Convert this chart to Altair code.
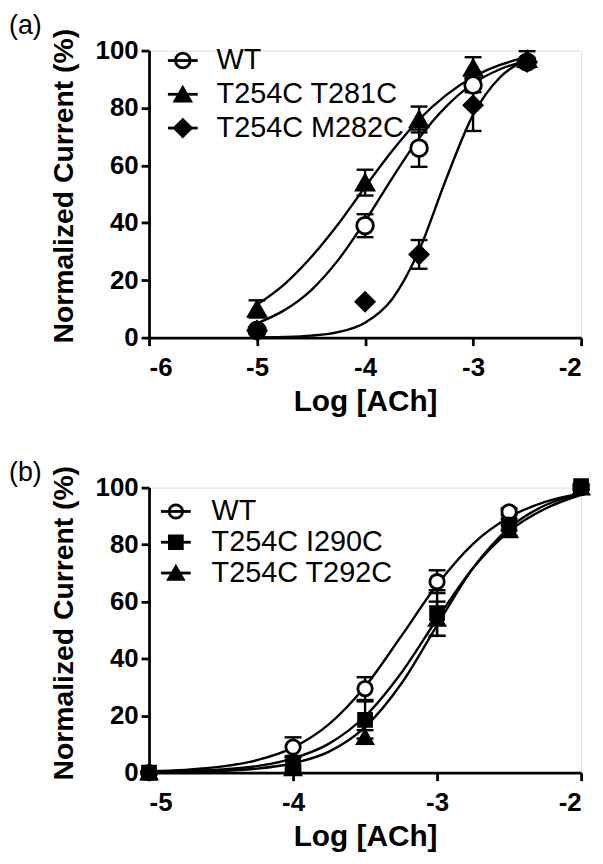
import altair as alt
import pandas as pd

FONT = "Liberation Sans"

# ---------------- Panel (a) data ----------------
a_names = ["WT", "T254C T281C", "T254C M282C"]
a_x = [-5, -4, -3.5, -3, -2.5]
a_wt = [2.5, 39, 66, 88, 96]
a_wt_err = [1.0, 4.0, 6.5, 2.5, 1.5]
a_t281 = [10, 54, 76, 94, 97]
a_t281_err = [3.0, 4.5, 4.5, 3.7, 2.8]
a_m282 = [2.5, 12.5, 29, 81, 96]
a_m282_err = [0.5, 0.5, 5.0, 9.0, 1.0]

a_fit_x = [-5, -4.75, -4.5, -4.25, -4, -3.75, -3.5, -3.25, -3, -2.75, -2.5]
a_fit_wt = [5.0, 9.5, 16.5, 27.0, 40.5, 55.5, 69.5, 80.5, 88.5, 93.5, 96.5]
a_fit_t281 = [11.5, 18.5, 28.0, 39.5, 52.5, 65.0, 76.0, 84.5, 90.8, 95.0, 97.8]
a_fit_m282 = [0.1, 0.25, 0.7, 1.9, 5.2, 13.4, 30.4, 55.2, 77.6, 90.7, 96.8]

# ---------------- Panel (b) data ----------------
b_names = ["WT", "T254C I290C", "T254C T292C"]
b_x = [-5, -4, -3.5, -3, -2.5, -2]
b_wt = [0, 9, 29.5, 67, 91.5, 100]
b_wt_err = [0.5, 3.4, 4.0, 4.0, 1.2, 0.8]
b_i290 = [0, 3.5, 18.5, 56, 87, 100.5]
b_i290_err = [0.5, 2.0, 6.5, 8.0, 2.0, 0.8]
b_t292 = [0, 1.5, 12.5, 54, 85, 100]
b_t292_err = [0.5, 1.0, 2.4, 6.0, 1.8, 0.8]

b_fit_x = [-5, -4.75, -4.5, -4.25, -4, -3.75, -3.5, -3.25, -3, -2.75, -2.5, -2.25, -2]
b_fit_wt = [0.5, 1.0, 2.1, 4.4, 8.8, 17.0, 30.2, 47.8, 65.9, 80.3, 89.6, 95.0, 98.0]
b_fit_i290 = [0.2, 0.5, 1.1, 2.3, 5.0, 10.2, 19.8, 34.9, 53.9, 71.8, 84.7, 92.6, 97.5]
b_fit_t292 = [0.1, 0.25, 0.6, 1.4, 3.3, 7.4, 16.0, 31.1, 51.7, 71.8, 85.8, 93.8, 97.8]

y_ticks = [0, 20, 40, 60, 80, 100]
panel_tags = ["(a)", "(b)"]
y_title = "Normalized Current (%)"
x_title = "Log [ACh]"


def axis_x(vals):
    return alt.Axis(values=vals, labelExpr="toString(datum.value)", title=x_title,
                    grid=False, domainColor="black", domainWidth=2.8, tickColor="black",
                    tickWidth=2.8, tickSize=8, labelFont=FONT, labelFontWeight="bold",
                    labelFontSize=26, labelColor="black", labelPadding=9,
                    titleFont=FONT, titleFontWeight="bold", titleFontSize=30,
                    titleColor="black", titlePadding=6)


def axis_y():
    return alt.Axis(values=y_ticks, title=y_title, grid=False, domainColor="black",
                    domainWidth=2.8, tickColor="black", tickWidth=2.8, tickSize=8,
                    labelFont=FONT, labelFontWeight="bold", labelFontSize=26,
                    labelColor="black", labelPadding=3,
                    titleFont=FONT, titleFontWeight="bold", titleFontSize=28.5,
                    titleColor="black", titlePadding=17, titleY=136)


def make_panel(xs, series, fit_x, domain, xvals, w, h, tag, tag_y, legend_cfg):
    X = lambda f: alt.X(f, type="quantitative", scale=alt.Scale(domain=domain, nice=False, zero=False), axis=axis_x(xvals))
    Y = lambda f: alt.Y(f, type="quantitative", scale=alt.Scale(domain=[0, 100], nice=False), axis=axis_y())
    layers = []
    # fitted curves
    for s in series:
        df = pd.DataFrame({"x": fit_x, "y": s["fit"]})
        layers.append(alt.Chart(df).mark_line(color="black", strokeWidth=2.4, interpolate="monotone")
                      .encode(x=X("x"), y=Y("y")))
    # error bars
    for s in series:
        df = pd.DataFrame({"x": xs, "y": s["y"], "e": s["err"]})
        df["lo"] = df["y"] - df["e"]
        df["hi"] = df["y"] + df["e"]
        layers.append(alt.Chart(df).mark_rule(color="black", strokeWidth=2.4)
                      .encode(x=X("x"), y=Y("lo"), y2="hi"))
        for col in ["lo", "hi"]:
            layers.append(alt.Chart(df).mark_tick(orient="horizontal", color="black", size=17, thickness=2.4, opacity=1)
                          .encode(x=X("x"), y=Y(col)))
    # points
    for s in series:
        df = pd.DataFrame({"x": xs, "y": s["y"]})
        layers.append(alt.Chart(df).mark_point(shape=s["shape"], filled=True, fill=s["fill"], stroke="black",
                                               strokeWidth=2.8, size=s["size"], opacity=1)
                      .encode(x=X("x"), y=Y("y")))
    # legend (manual)
    lx0, lx1, mx, tx, rows = legend_cfg
    for s, ly in zip(series, rows):
        ldf = pd.DataFrame({"label": [s["name"]]})
        lfill = "transparent" if s["fill"] == "white" else s["fill"]
        layers.append(alt.Chart(ldf).mark_rule(color="black", strokeWidth=2.8)
                      .encode(x=alt.value(lx0), x2=alt.value(lx1), y=alt.value(ly)))
        layers.append(alt.Chart(ldf).mark_point(shape=s["shape"], filled=True, fill=lfill, stroke="black",
                                                strokeWidth=2.8, size=s["lsize"], opacity=1)
                      .encode(x=alt.value(mx), y=alt.value(ly)))
        layers.append(alt.Chart(ldf).mark_text(align="left", baseline="middle", font=FONT, fontSize=29, color="black")
                      .encode(x=alt.value(tx), y=alt.value(ly), text="label:N"))
    # panel tag
    tdf = pd.DataFrame({"t": [tag]})
    layers.append(alt.Chart(tdf).mark_text(align="left", baseline="top", font=FONT, fontSize=27, color="black")
                  .encode(x=alt.value(-141), y=alt.value(tag_y), text="t:N"))
    return alt.layer(*layers).properties(width=w, height=h)


series_a = [
    {"name": a_names[0], "y": a_wt, "err": a_wt_err, "fit": a_fit_wt, "shape": "circle", "fill": "white", "size": 280, "lsize": 220},
    {"name": a_names[1], "y": a_t281, "err": a_t281_err, "fit": a_fit_t281, "shape": "triangle-up", "fill": "black", "size": 300, "lsize": 250},
    {"name": a_names[2], "y": a_m282, "err": a_m282_err, "fit": a_fit_m282, "shape": "diamond", "fill": "black", "size": 330, "lsize": 290},
]
series_b = [
    {"name": b_names[0], "y": b_wt, "err": b_wt_err, "fit": b_fit_wt, "shape": "circle", "fill": "white", "size": 210, "lsize": 180},
    {"name": b_names[1], "y": b_i290, "err": b_i290_err, "fit": b_fit_i290, "shape": "square", "fill": "black", "size": 170, "lsize": 170},
    {"name": b_names[2], "y": b_t292, "err": b_t292_err, "fit": b_fit_t292, "shape": "triangle-up", "fill": "black", "size": 230, "lsize": 220},
]

pa = make_panel(a_x, series_a, a_fit_x, [-6, -2], [-6, -5, -4, -3, -2], 435, 289,
                panel_tags[0], -38, (19, 49, 34, 68, [10, 44, 78]))
pb = make_panel(b_x, series_b, b_fit_x, [-5, -2], [-5, -4, -3, -2], 435, 287,
                panel_tags[1], -28, (12, 42, 27, 63, [24, 55, 86]))

chart = alt.vconcat(pa, pb, spacing=41).properties(
    padding={"left": 0, "top": 0, "right": 0, "bottom": 0}
).configure_view(stroke=None).configure(background="white")

chart.save("out.html", embed_options={"renderer": "svg", "actions": False})
